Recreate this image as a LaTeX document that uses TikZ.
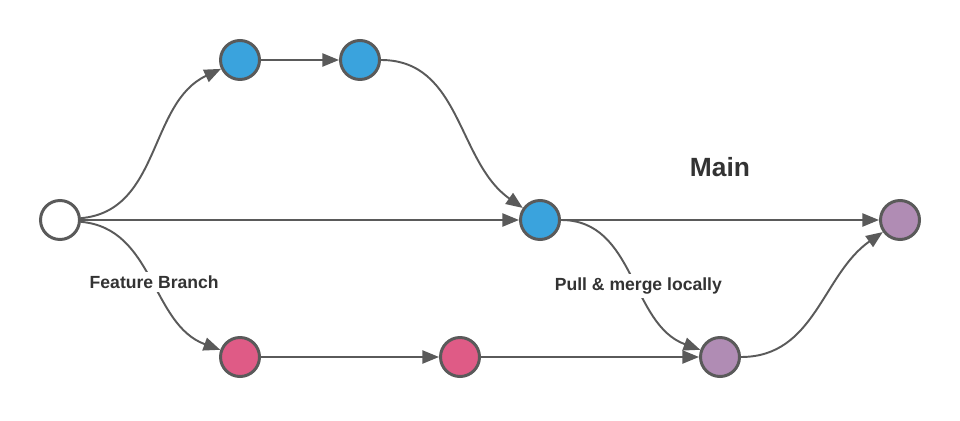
\documentclass[tikz,border=0pt]{standalone}
\usepackage{fontspec}
\setmainfont{Liberation Sans}
\usetikzlibrary{positioning,arrows.meta}
\definecolor{edgegray}{HTML}{5A5A5A}
\definecolor{txtgray}{HTML}{333333}
\definecolor{mainblue}{HTML}{3AA3DD}
\definecolor{featpink}{HTML}{DF5B86}
\definecolor{mergepurple}{HTML}{B08CB4}
\tikzset{
    >={Triangle[length=9.5pt,width=7.5pt]},
    commit/.style={circle, draw=edgegray, line width=1.7pt, minimum size=0.78cm, inner sep=0pt},
    every edge/.append style={->, draw=edgegray, line width=1.1pt},
    branchlabel/.style={font=\bfseries\fontsize{10}{12}\selectfont, text=txtgray, fill=white, inner sep=2pt},
}

\begin{document}
\begin{tikzpicture}[on grid]
    \useasboundingbox (-1.2,-4.0) rectangle (18.0,4.4);

    \node[commit, fill=white] (s) {};

    % main branch
    \node[commit, fill=mainblue, above right=3.2cm and 3.6cm of s] (b1) {};
    \node[commit, fill=mainblue, right=2.4cm of b1] (b2) {};
    \node[commit, fill=mainblue, right=9.6cm of s] (b3) {};
    \node[commit, fill=mergepurple, right=7.2cm of b3] (m2) {};

    % feature branch
    \node[commit, fill=featpink, below right=2.74cm and 3.6cm of s] (p1) {};
    \node[commit, fill=featpink, right=4.4cm of p1] (p2) {};
    \node[commit, fill=mergepurple, right=5.2cm of p2] (m1) {};

    \node[font=\bfseries\fontsize{15}{18}\selectfont, text=txtgray,
          above right=1.06cm and 13.2cm of s] (main) {Main};

    \draw
    (s) edge[out=5, in=205] (b1)
    (b1) edge (b2)
    (b2) edge[out=0, in=145] (b3)
    (s) edge (b3)
    (b3) edge (m2)

    (s) edge[out=-5, in=160] node[branchlabel, pos=0.52] {Feature Branch} (p1)
    (p1) edge (p2)
    (p2) edge (m1)
    (b3) edge[out=0, in=160] node[branchlabel, pos=0.56] {Pull \& merge locally} (m1)
    (m1) edge[out=0, in=215] (m2)
    ;
\end{tikzpicture}
\end{document}
